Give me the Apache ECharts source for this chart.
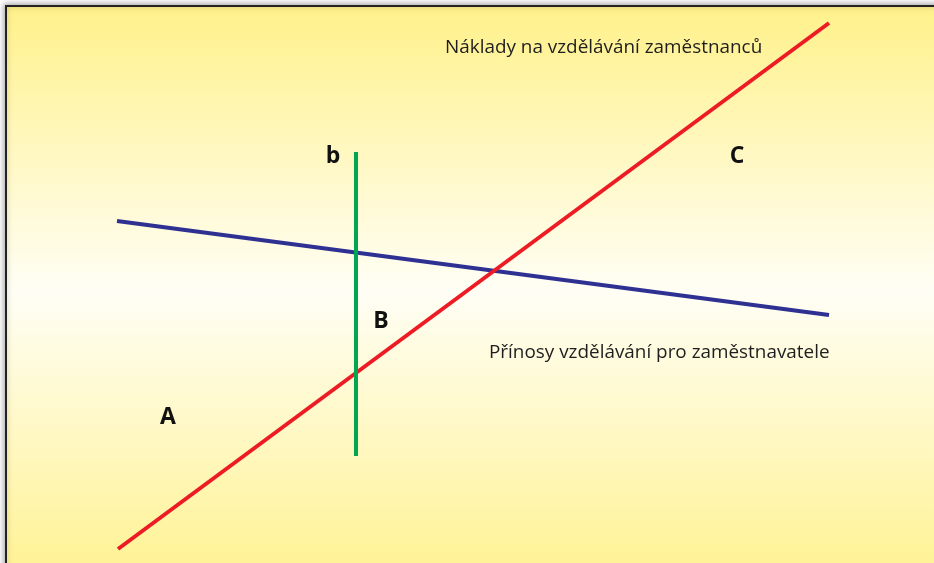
<!DOCTYPE html>
<html>
<head>
    <meta charset="UTF-8">
    <title>chart</title>
    <script src="https://cdn.jsdelivr.net/npm/echarts@6/dist/echarts.min.js"></script>
    <style>
        *{margin:0;padding:0}
        html,body{width:100%;height:100%}
        #main{width:934px;height:563px}
    </style>
</head>
<body>
<div id="main"></div>
<script type="text/javascript">
    // data in picture units (x to the right, y downwards)
    var costLine = [[118, 549], [829, 23]];      // red
    var benefitLine = [[117, 221], [829, 315]];  // blue
    var bLine = [[356, 152], [356, 456]];        // green
    var letters = [
        {name: 'b', value: [333, 156]},
        {name: 'C', value: [737, 156]},
        {name: 'B', value: [381, 321]},
        {name: 'A', value: [168, 417]}
    ];
    var captions = [
        {name: 'Náklady na vzdělávání zaměstnanců', value: [445, 48]},
        {name: 'Přínosy vzdělávání pro zaměstnavatele', value: [489, 353]}
    ];

    var myChart = echarts.init(document.getElementById('main'));

    var option = {
        animation: false,
        graphic: [
            {
                type: 'rect', z: -10,
                shape: {x: 6, y: 6, width: 940, height: 570},
                style: {
                    fill: new echarts.graphic.LinearGradient(0, 0, 0, 1, [
                        {offset: 0, color: '#fff18a'},
                        {offset: 0.5, color: '#fffef5'},
                        {offset: 1, color: '#fff292'}
                    ]),
                    stroke: '#222',
                    lineWidth: 2,
                    shadowBlur: 6,
                    shadowColor: 'rgba(0,0,0,0.35)',
                    shadowOffsetX: -1,
                    shadowOffsetY: -1
                }
            }
        ],
        grid: {left: 0, top: 0, width: 934, height: 563},
        xAxis: {type: 'value', min: 0, max: 934, show: false},
        yAxis: {type: 'value', min: 0, max: 563, inverse: true, show: false},
        series: [
            {
                type: 'line', data: benefitLine, symbol: 'none',
                lineStyle: {color: '#2e3192', width: 4}
            },
            {
                type: 'line', data: costLine, symbol: 'none',
                lineStyle: {color: '#ed1c24', width: 4}
            },
            {
                type: 'line', data: bLine, symbol: 'none',
                lineStyle: {color: '#00a650', width: 4}
            },
            {
                type: 'scatter', data: letters, symbolSize: 0,
                itemStyle: {opacity: 1},
                label: {
                    show: true, position: 'inside', formatter: '{b}',
                    fontFamily: 'Open Sans', fontWeight: 'bold', fontSize: 23, color: '#111'
                }
            },
            {
                type: 'scatter', data: captions, symbolSize: 0,
                itemStyle: {opacity: 1},
                label: {
                    show: true, position: 'right', distance: 0, formatter: '{b}',
                    fontFamily: 'Open Sans', fontSize: 18.9, color: '#1e1e1e'
                }
            }
        ]
    };
    myChart.setOption(option);
</script>
</body>
</html>
